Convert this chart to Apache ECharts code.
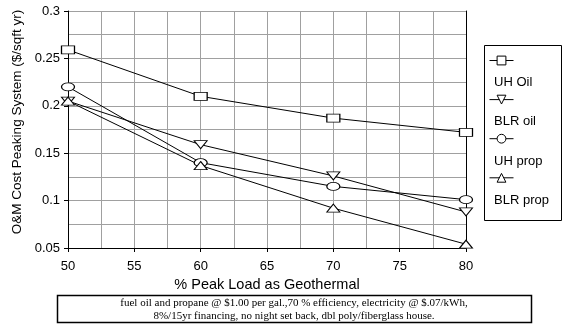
<!DOCTYPE html>
<html>
<head>
<meta charset="utf-8">
<script src="https://cdn.jsdelivr.net/npm/echarts@6/dist/echarts.min.js"></script>
<style>
  html, body { margin: 0; padding: 0; background: #fff; }
  #chart { width: 564px; height: 327px; }
</style>
</head>
<body>
<div id="chart"></div>
<script>
// x values (% peak load as geothermal)
var peakLoad = [50, 60, 70, 80];
// O&M cost, $/sqft yr
var uhOil = [0.259, 0.21, 0.187, 0.172];
var blrOil = [0.205, 0.159, 0.126, 0.088];
var uhProp = [0.22, 0.14, 0.115, 0.101];
var blrProp = [0.205, 0.137, 0.092, 0.054];
var seriesNames = ['UH Oil', 'BLR oil', 'UH prop', 'BLR prop'];

var caption = 'fuel oil and propane @ $1.00 per gal.,70 % efficiency, electricity @ $.07/kWh,\n' +
  '8%/15yr financing, no night set back, dbl poly/fiberglass house.';

var FONT = 'Liberation Sans, Arial, sans-serif';

// marker shapes
var symRect = 'rect';
var symDown = 'path://M0,0L2,0L1,2Z';
var symUp = 'path://M1,0L2,2L0,2Z';
var symEllipse = 'path://M0,1A1,1,0,1,1,2,1A1,1,0,1,1,0,1Z';

function pairs(ys) {
  return peakLoad.map(function(x, i) { return [x, ys[i]]; });
}

function mkSeries(name, ys, symbol) {
  return {
    name: name,
    type: 'line',
    data: pairs(ys),
    symbol: symbol,
    symbolSize: [13, 8],
    showSymbol: true,
    lineStyle: { color: '#000', width: 1 },
    itemStyle: { color: '#fff', borderColor: '#000', borderWidth: 1 },
    emphasis: { disabled: true },
    animation: false
  };
}

var chart = echarts.init(document.getElementById('chart'));
chart.setOption({
  animation: false,
  backgroundColor: '#fff',
  grid: { left: 68, right: 98, top: 11, bottom: 79 },
  xAxis: {
    type: 'value',
    min: 50, max: 80, interval: 5,
    name: '% Peak Load as Geothermal',
    nameLocation: 'middle',
    nameGap: 29,
    nameTextStyle: { fontFamily: FONT, fontSize: 14.5, color: '#000' },
    axisLine: { lineStyle: { color: '#000', width: 1 } },
    axisTick: { show: true, inside: false, length: 4, lineStyle: { color: '#000' } },
    axisLabel: { fontFamily: FONT, fontSize: 13, color: '#000', margin: 12 },
    splitLine: { show: true, lineStyle: { color: '#a0a0a0', width: 1 } },
    minorTick: { show: false, splitNumber: 2 },
    minorSplitLine: { show: true, lineStyle: { color: '#a0a0a0', width: 1 } }
  },
  yAxis: [{
    type: 'value',
    min: 0.05, max: 0.3, interval: 0.05,
    name: 'O&M Cost Peaking System ($/sqft yr)',
    nameLocation: 'middle',
    nameGap: 44,
    nameTextStyle: { fontFamily: FONT, fontSize: 13.5, color: '#000', padding: [0, 0, 0, 15] },
    axisLine: { show: true, lineStyle: { color: '#000', width: 1 } },
    axisTick: { show: true, inside: false, length: 4, lineStyle: { color: '#000' } },
    axisLabel: { fontFamily: FONT, fontSize: 13, color: '#000', margin: 8 },
    splitLine: { show: true, lineStyle: { color: '#a0a0a0', width: 1 } },
    minorTick: { show: false, splitNumber: 2 },
    minorSplitLine: { show: true, lineStyle: { color: '#a0a0a0', width: 1 } }
  }, {
    // right border of the plot area
    type: 'value',
    position: 'right',
    min: 0.05, max: 0.3, interval: 0.05,
    axisLine: { show: true, lineStyle: { color: '#000', width: 1 } },
    axisTick: { show: false },
    axisLabel: { show: false },
    splitLine: { show: false }
  }],
  legend: [{
    // symbols row
    orient: 'vertical',
    left: 489, top: 55,
    padding: 0,
    itemWidth: 24, itemHeight: 11,
    itemGap: 28.7,
    data: seriesNames,
    itemStyle: { borderWidth: 1 },
    lineStyle: { width: 1 },
    formatter: function() { return ''; },
    selectedMode: false
  }, {
    // labels row
    orient: 'vertical',
    left: 482, top: 76,
    padding: 0,
    itemWidth: 1, itemHeight: 14,
    itemGap: 26,
    data: seriesNames,
    itemStyle: { opacity: 0 },
    lineStyle: { opacity: 0 },
    textStyle: { fontFamily: FONT, fontSize: 13, color: '#000' },
    selectedMode: false
  }],
  graphic: [{
    type: 'rect',
    shape: { x: 484.5, y: 45.5, width: 77, height: 175 },
    style: { fill: 'none', stroke: '#000', lineWidth: 1 },
    silent: true
  }, {
    type: 'rect',
    shape: { x: 57.5, y: 295.5, width: 474, height: 27 },
    style: { fill: '#fff', stroke: '#000', lineWidth: 1.5 },
    silent: true
  }, {
    type: 'text',
    x: 294, y: 297,
    style: {
      text: caption,
      fontFamily: 'Liberation Serif, Times New Roman, serif',
      fontSize: 11,
      lineHeight: 12.5,
      fill: '#000',
      align: 'center',
      verticalAlign: 'top'
    },
    silent: true
  }],
  series: [
    mkSeries('UH Oil', uhOil, symRect),
    mkSeries('BLR oil', blrOil, symDown),
    mkSeries('UH prop', uhProp, symEllipse),
    mkSeries('BLR prop', blrProp, symUp)
  ]
});
</script>
</body>
</html>
